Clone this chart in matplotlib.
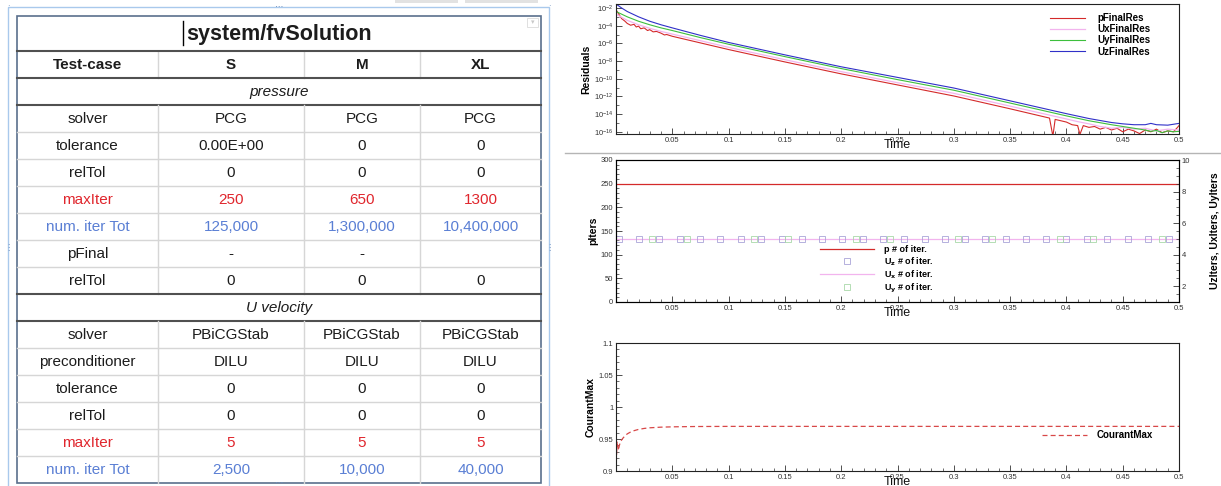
import matplotlib
matplotlib.use("Agg")
import matplotlib.pyplot as plt
from matplotlib.patches import Rectangle
from matplotlib.ticker import FixedLocator, MultipleLocator, NullFormatter, LogFormatterMathtext, FuncFormatter
import numpy as np

# ---------------- DATA ----------------
table_title = "system/fvSolution"
columns = ["Test-case", "S", "M", "XL"]

pressure_section = "pressure"
pressure_params = ["solver", "tolerance", "relTol", "maxIter", "num. iter Tot", "pFinal", "relTol"]
pressure_S = ["PCG", "0.00E+00", "0", "250", "125,000", "-", "0"]
pressure_M = ["PCG", "0", "0", "650", "1,300,000", "-", "0"]
pressure_XL = ["PCG", "0", "0", "1300", "10,400,000", "", "0"]

velocity_section = "U velocity"
velocity_params = ["solver", "preconditioner", "tolerance", "relTol", "maxIter", "num. iter Tot"]
velocity_S = ["PBiCGStab", "DILU", "0", "0", "5", "2,500"]
velocity_M = ["PBiCGStab", "DILU", "0", "0", "5", "10,000"]
velocity_XL = ["PBiCGStab", "DILU", "0", "0", "5", "40,000"]

# residuals (log10 of value) vs time
uz_res_t = [0.0, 0.005, 0.01, 0.02, 0.03, 0.04, 0.05, 0.075, 0.1, 0.15, 0.2, 0.25, 0.3, 0.35,
            0.4, 0.42, 0.44, 0.45, 0.46, 0.47, 0.475, 0.48, 0.49, 0.495, 0.5]
uz_res_log = [-1.55, -2.0, -2.4, -3.0, -3.5, -3.9, -4.25, -5.1, -5.9, -7.3, -8.65, -9.85, -11.05, -12.5,
              -13.95, -14.5, -14.95, -15.1, -15.2, -15.2, -15.05, -15.2, -15.25, -15.15, -15.05]

uy_res_t = [0.0, 0.005, 0.01, 0.02, 0.03, 0.04, 0.05, 0.075, 0.1, 0.15, 0.2, 0.25, 0.3, 0.35,
            0.4, 0.42, 0.44, 0.45, 0.46, 0.47, 0.475, 0.48, 0.485, 0.49, 0.495, 0.5]
uy_res_log = [-2.4, -2.7, -3.0, -3.5, -3.9, -4.25, -4.55, -5.35, -6.1, -7.5, -8.85, -10.1, -11.3, -12.75,
              -14.2, -14.75, -15.2, -15.4, -15.6, -15.8, -15.95, -15.85, -16.1, -15.9, -16.0, -15.95]

ux_res_t = [0.0, 0.01, 0.02, 0.03, 0.04, 0.05, 0.075, 0.1, 0.15, 0.2, 0.25, 0.3, 0.35,
            0.4, 0.41, 0.42, 0.43, 0.44, 0.45, 0.46, 0.47, 0.48, 0.49, 0.5]
ux_res_log = [-2.7, -3.4, -3.9, -4.3, -4.65, -4.95, -5.7, -6.45, -7.85, -9.2, -10.45, -11.65, -13.1,
              -14.55, -14.85, -15.1, -15.4, -15.6, -15.5, -15.7, -15.6, -15.9, -15.7, -15.8]

p_res_t = [0.0, 0.002, 0.005, 0.008, 0.01, 0.013, 0.016, 0.018, 0.02, 0.022, 0.025, 0.028, 0.03,
           0.033, 0.036, 0.04, 0.043, 0.045, 0.05, 0.075, 0.1, 0.15, 0.2, 0.25, 0.3, 0.35, 0.385,
           0.388, 0.39, 0.4, 0.405, 0.41, 0.412, 0.415, 0.42, 0.425, 0.43, 0.435, 0.44, 0.445, 0.45,
           0.455, 0.46, 0.465, 0.47, 0.475, 0.48, 0.485, 0.49, 0.495, 0.498, 0.5]
p_res_log = [-2.2, -2.6, -3.2, -3.5, -3.75, -3.95, -3.85, -4.15, -4.05, -4.35, -4.25, -4.55, -4.45,
             -4.7, -4.65, -4.85, -5.05, -5.0, -5.2, -5.95, -6.7, -8.1, -9.45, -10.7, -11.95, -13.4, -14.45,
             -16.5, -14.6, -14.9, -15.2, -15.3, -16.3, -15.3, -15.5, -15.4, -15.7, -15.5, -15.8, -15.6, -16.0,
             -15.7, -15.9, -16.2, -15.8, -16.0, -15.7, -16.1, -15.9, -16.0, -15.6, -15.3]

# iterations
iter_t = [0.0, 0.5]
p_iters = [250, 250]
ux_iters = [5, 5]
uz_marker_t = [0.003, 0.0207, 0.0383, 0.0568, 0.0744, 0.0925, 0.111, 0.129, 0.147, 0.165, 0.183,
               0.201, 0.219, 0.237, 0.2556, 0.274, 0.292, 0.31, 0.328, 0.346, 0.364, 0.382, 0.4,
               0.418, 0.436, 0.4545, 0.4726, 0.491]
uz_iters = [5, 5, 5, 5, 5, 5, 5, 5, 5, 5, 5, 5, 5, 5, 5, 5, 5, 5, 5, 5, 5, 5, 5, 5, 5, 5, 5, 5]
uy_marker_t = [0.032, 0.0628, 0.1226, 0.153, 0.2135, 0.243, 0.304, 0.334, 0.394, 0.424, 0.4846]
uy_iters = [5, 5, 5, 5, 5, 5, 5, 5, 5, 5, 5]

# Courant number
co_t = [0.0, 0.0005, 0.001, 0.0015, 0.002, 0.003, 0.004, 0.006, 0.008, 0.01, 0.013, 0.016, 0.02,
        0.025, 0.03, 0.035, 0.04, 0.05, 0.07, 0.1, 0.5]
co_max = [0.900, 0.925, 0.946, 0.939, 0.932, 0.940, 0.946, 0.951, 0.955, 0.958, 0.961, 0.963, 0.965,
          0.9665, 0.9675, 0.968, 0.9685, 0.969, 0.9695, 0.9697, 0.9697]

time_ticks = [0.05, 0.1, 0.15, 0.2, 0.25, 0.3, 0.35, 0.4, 0.45, 0.5]
time_tick_labels = ["0.05", "0.1", "0.15", "0.2", "0.25", "0.3", "0.35", "0.4", "0.45", "0.5"]
res_ticks_exp = [-2, -4, -6, -8, -10, -12, -14, -16]
piter_ticks = [0, 50, 100, 150, 200, 250, 300]
uiter_ticks = [2, 4, 6, 8, 10]
co_ticks = [0.9, 0.95, 1.0, 1.05, 1.1]

# ---------------- FIGURE ----------------
W, H = 1221, 486
fig = plt.figure(figsize=(W / 100, H / 100), dpi=100)
fig.patch.set_facecolor("white")
FONT = "Liberation Sans"

bg = fig.add_axes([0, 0, 1, 1])
bg.set_xlim(0, W)
bg.set_ylim(H, 0)
bg.axis("off")

# top tabs
for x0, x1 in [(395, 458), (465, 538)]:
    bg.add_patch(Rectangle((x0, 0), x1 - x0, 3.5, color="#e2e2e2", lw=0))

# selection frame
bg.add_patch(Rectangle((8, 7), 541, 490, fill=False, ec="#a9c9ec", lw=1.0))
for (hx, hy, ch) in [(279, 6.5, "\u22ef"), (279, 482, "\u22ef"), (8, 247, "\u22ee"), (549, 247, "\u22ee"),
                     (8, 7, "\u00b7"), (549, 7, "\u00b7")]:
    bg.text(hx, hy, ch, ha="center", va="center", fontsize=6, color="#6d8fbf", family="DejaVu Sans")

# table geometry
col_edges = [17, 158, 304, 420, 541]
tab_top = 16
title_h = 35
header_h = 27
row_h = 27
TXT = "#1c1c1c"
RED = "#e0262d"
BLUE = "#5a7fd4"

rows = [("section", pressure_section)]
for i, lab in enumerate(pressure_params):
    rows.append(("data", lab, pressure_S[i], pressure_M[i], pressure_XL[i]))
rows.append(("section", velocity_section))
for i, lab in enumerate(velocity_params):
    rows.append(("data", lab, velocity_S[i], velocity_M[i], velocity_XL[i]))

y_title_bot = tab_top + title_h
y_head_bot = y_title_bot + header_h
tab_bot = y_head_bot + row_h * len(rows)
xl, xr = col_edges[0], col_edges[-1]
xc = [(col_edges[i] + col_edges[i + 1]) / 2 for i in range(4)]

# title
bg.text((xl + xr) / 2, tab_top + title_h / 2 + 1, table_title, ha="center", va="center",
        fontsize=15.5, fontweight="bold", family=FONT, color=TXT)
bg.plot([183, 183], [21, 45], color="black", lw=1.0)
bg.add_patch(Rectangle((527, 18), 11, 9, fill=False, ec="#dadada", lw=0.6))
bg.text(532.5, 22.5, "\u25be", ha="center", va="center", fontsize=5, color="#c8c8c8", family="DejaVu Sans")

# header
for j, c in enumerate(columns):
    bg.text(xc[j], y_title_bot + header_h / 2 + 0.5, c, ha="center", va="center", fontsize=11,
            fontweight="bold", family=FONT, color=TXT)
for xe in col_edges[1:-1]:
    bg.plot([xe, xe], [y_title_bot, y_head_bot], color="#d6d6d6", lw=1.0)

# rows
for i, r in enumerate(rows):
    y0 = y_head_bot + i * row_h
    yc = y0 + row_h / 2 + 0.5
    if r[0] == "section":
        bg.text((xl + xr) / 2, yc, r[1], ha="center", va="center", fontsize=11, style="italic",
                family=FONT, color=TXT)
    else:
        lab = r[1]
        col = RED if lab == "maxIter" else (BLUE if lab.startswith("num.") else TXT)
        for j, v in enumerate(r[1:]):
            bg.text(xc[j], yc, v, ha="center", va="center", fontsize=11, family=FONT, color=col)
        for xe in col_edges[1:-1]:
            bg.plot([xe, xe], [y0, y0 + row_h], color="#d6d6d6", lw=1.0)
    nxt_section = (i + 1 < len(rows) and rows[i + 1][0] == "section")
    if i < len(rows) - 1:
        if r[0] == "section" or nxt_section:
            bg.plot([xl, xr], [y0 + row_h] * 2, color="#505050", lw=1.5)
        else:
            bg.plot([xl, xr], [y0 + row_h] * 2, color="#d6d6d6", lw=1.0)

bg.plot([xl, xr], [y_title_bot] * 2, color="#505050", lw=1.5)
bg.plot([xl, xr], [y_head_bot] * 2, color="#505050", lw=1.5)
bg.add_patch(Rectangle((xl, tab_top), xr - xl, tab_bot - tab_top, fill=False, ec="#5a6f8c", lw=1.2))

# separator between charts
bg.plot([565, W], [153, 153], color="#b5b5b5", lw=1.0)


# ---------------- CHARTS ----------------
def frac_axes(x0, y0, x1, y1):
    return fig.add_axes([x0 / W, 1 - y1 / H, (x1 - x0) / W, (y1 - y0) / H])


def style_time_axes(ax):
    ax.set_xlim(0, 0.5)
    ax.set_xticks(time_ticks)
    ax.set_xticklabels(time_tick_labels)
    ax.xaxis.set_minor_locator(MultipleLocator(0.01))
    ax.tick_params(direction="in", which="both", top=False, right=False, labelsize=5.5,
                   colors="#333333", pad=2)
    ax.tick_params(which="major", length=4, width=0.6)
    ax.tick_params(which="minor", length=2, width=0.5)
    for s in ax.spines.values():
        s.set_linewidth(0.8)
        s.set_color("#222222")
    for lab in ax.get_xticklabels() + ax.get_yticklabels():
        lab.set_family(FONT)
    ax.annotate("Time", xy=(0.5, 0), xycoords="axes fraction", xytext=(0, -3.5),
                textcoords="offset points", ha="center", va="top", fontsize=9, family=FONT,
                color="#111111")


# --- residuals
ax1 = frac_axes(616, 4, 1179, 134)
ax1.set_yscale("log")
ax1.plot(p_res_t, np.power(10.0, p_res_log), color="#d42a2a", lw=0.8, label="pFinalRes")
ax1.plot(ux_res_t, np.power(10.0, ux_res_log), color="#f2b4ee", lw=0.9, label="UxFinalRes")
ax1.plot(uy_res_t, np.power(10.0, uy_res_log), color="#3dbf3d", lw=0.8, label="UyFinalRes")
ax1.plot(uz_res_t, np.power(10.0, uz_res_log), color="#3030c8", lw=0.8, label="UzFinalRes")
ax1.set_ylim(10 ** -16.25, 10 ** -1.55)
ax1.yaxis.set_major_locator(FixedLocator([10.0 ** e for e in res_ticks_exp]))
ax1.yaxis.set_major_formatter(LogFormatterMathtext())
ax1.yaxis.set_minor_locator(FixedLocator([10.0 ** (e - 1) for e in res_ticks_exp[:-1]]))
ax1.yaxis.set_minor_formatter(NullFormatter())
style_time_axes(ax1)
ax1.set_ylabel("Residuals", fontsize=7.5, fontweight="bold", family=FONT, labelpad=2)
ax1.legend(loc="upper left", bbox_to_anchor=(0.771, 0.93), frameon=False, borderpad=0,
           borderaxespad=0, handlelength=3.6, handletextpad=1.3, labelspacing=0.12,
           prop={"family": FONT, "weight": "bold", "size": 7})

# --- iterations
ax2 = frac_axes(616, 160, 1179, 302)
ax2.plot(iter_t, p_iters, color="#d42a2a", lw=0.9, label="p # of iter.")
ax2.set_ylim(0, 300)
ax2.set_yticks(piter_ticks)
ax2.yaxis.set_minor_locator(MultipleLocator(10))
style_time_axes(ax2)
ax2.set_ylabel("pIters", fontsize=7.5, fontweight="bold", family=FONT, labelpad=2)
ax2r = ax2.twinx()
h_uz, = ax2r.plot(uz_marker_t, uz_iters, ls="none", marker="s", ms=3.8, mfc="none", mec="#aaa4d8",
                  mew=0.6, label=r"U$_\mathbf{z}$ # of iter.")
h_ux, = ax2r.plot(iter_t, ux_iters, color="#f2b4ee", lw=0.9, label=r"U$_\mathbf{x}$ # of iter.", zorder=1)
h_uy, = ax2r.plot(uy_marker_t, uy_iters, ls="none", marker="s", ms=3.8, mfc="none", mec="#a8d8a8",
                  mew=0.6, label=r"U$_\mathbf{y}$ # of iter.")
ax2r.set_ylim(1, 10)
ax2r.set_yticks(uiter_ticks)
ax2r.yaxis.set_minor_locator(MultipleLocator(0.5))
ax2r.tick_params(direction="in", which="both", labelsize=5.5, colors="#333333", pad=2)
ax2r.tick_params(which="major", length=4, width=0.6)
ax2r.tick_params(which="minor", length=2, width=0.5)
for lab in ax2r.get_yticklabels():
    lab.set_family(FONT)
ax2r.set_ylabel("UzIters, UxIters, UyIters", fontsize=7.5, fontweight="bold", family=FONT, labelpad=14)
handles = [ax2.get_lines()[0], h_uz, h_ux, h_uy]
ax2r.legend(handles=handles, labels=[h.get_label() for h in handles], loc="upper left",
            bbox_to_anchor=(0.362, 0.40), frameon=False, borderpad=0, borderaxespad=0,
            handlelength=6.0, handletextpad=1.1, labelspacing=0.1,
            prop={"family": FONT, "weight": "bold", "size": 6.5})

# --- Courant
ax3 = frac_axes(616, 343, 1179, 471)
ax3.plot(co_t, co_max, color="#d84848", lw=0.9, dashes=(4, 2.5), label="CourantMax")
ax3.set_ylim(0.9, 1.1)
ax3.set_yticks(co_ticks)
ax3.yaxis.set_major_formatter(FuncFormatter(lambda v, p: "%g" % v))
ax3.yaxis.set_minor_locator(MultipleLocator(0.01))
style_time_axes(ax3)
ax3.set_ylabel("CourantMax", fontsize=7.5, fontweight="bold", family=FONT, labelpad=2)
ax3.legend(loc="upper left", bbox_to_anchor=(0.757, 0.32), frameon=False, borderpad=0,
           borderaxespad=0, handlelength=4.6, handletextpad=1.0,
           prop={"family": FONT, "weight": "bold", "size": 7})

fig.savefig("out.png", dpi=100, facecolor="white")
